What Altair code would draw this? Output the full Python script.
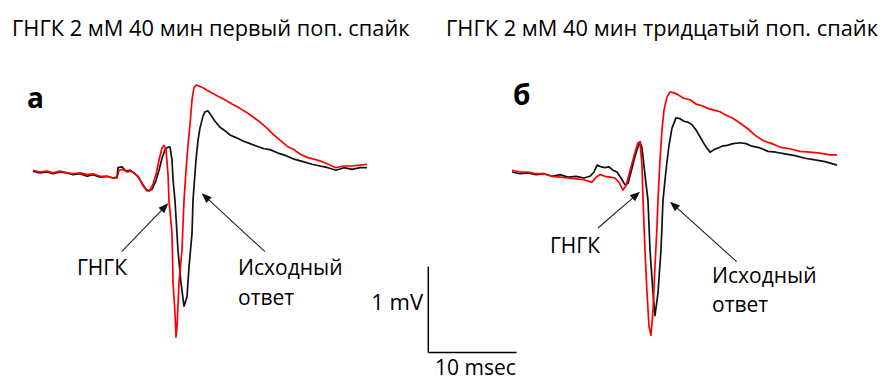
import math
import altair as alt
import pandas as pd

# ---------------- data (time in ms from sweep start, voltage in mV relative to baseline) ----------------
# Panel а — first population spike
A_BLACK_T = [0, 0.79, 1.59, 2.27, 3.06, 3.85, 4.53, 5.32, 6.12, 6.80, 7.59, 8.38, 9.06, 9.51, 9.63, 10.08,
             10.53, 10.99, 11.44, 11.89, 12.34, 12.80, 13.14, 13.48, 13.93, 14.27, 14.61, 14.95, 15.29, 15.52,
             15.74, 15.86, 16.08, 16.42, 16.76, 17.10, 17.44, 17.67, 18.01, 18.12, 18.46, 18.69, 18.91, 19.25,
             19.48, 19.82, 20.16, 20.61, 21.18, 21.74, 22.31, 22.99, 23.78, 24.58, 25.37, 26.16, 26.84, 27.75,
             28.65, 29.56, 30.58, 31.60, 32.50, 33.41, 34.31, 35.22, 36.13, 37.03, 37.83]
A_BLACK_V = [0.01, -0.01, 0, -0.02, 0, -0.01, -0.03, -0.02, -0.05, -0.03, -0.06, -0.05, -0.07, -0.06, 0.05, 0.06,
             0.01, 0.02, -0.01, -0.05, -0.13, -0.20, -0.22, -0.20, -0.10, 0.02, 0.16, 0.26, 0.29, 0.29,
             0.14, -0.09, -0.33, -0.91, -1.29, -1.56, -1.45, -1.10, -0.71, -0.33, 0.14, 0.37, 0.51, 0.65,
             0.70, 0.71, 0.66, 0.59, 0.52, 0.48, 0.43, 0.40, 0.36, 0.33, 0.30, 0.27, 0.26, 0.22,
             0.19, 0.15, 0.12, 0.09, 0.07, 0.05, 0.02, 0.05, 0.03, 0.05, 0.05]
A_RED_T = [0, 0.79, 1.59, 2.27, 3.06, 3.85, 4.53, 5.32, 6.12, 6.80, 7.59, 8.38, 9.06, 9.51, 9.74, 10.19,
           10.65, 11.10, 11.55, 12.00, 12.46, 12.91, 13.25, 13.59, 13.93, 14.27, 14.61, 14.84, 15.06, 15.29,
           15.40, 15.74, 15.86, 16.08, 16.19, 16.31, 16.53, 16.87, 17.10, 17.33, 17.55, 17.78, 18.01, 18.23,
           18.46, 18.80, 19.25, 19.71, 20.27, 20.95, 21.74, 22.54, 23.44, 24.24, 24.92, 25.71, 26.50, 27.18,
           27.97, 28.77, 29.56, 30.24, 31.03, 31.82, 32.50, 33.41, 34.31, 35.22, 36.13, 37.03, 37.83]
A_RED_V = [0.02, 0, 0.01, -0.01, 0.01, -0.01, -0.02, -0.01, -0.03, -0.02, -0.05, -0.05, -0.07, -0.07, 0.02, 0.03,
           0, 0.01, -0.02, -0.07, -0.16, -0.22, -0.21, -0.14, -0.03, 0.14, 0.28, 0.31, 0.26, -0.03,
           -0.33, -0.71, -1.29, -1.64, -1.92, -1.80, -1.29, -0.91, -0.33, 0.02, 0.31, 0.55, 0.84, 0.98,
           1.01, 1.00, 0.98, 0.95, 0.92, 0.88, 0.84, 0.79, 0.74, 0.69, 0.64, 0.58, 0.51, 0.44,
           0.37, 0.30, 0.26, 0.21, 0.17, 0.15, 0.13, 0.09, 0.05, 0.07, 0.07, 0.08, 0.09]

# Panel б — thirtieth population spike
B_BLACK_T = [0, 0.91, 1.81, 2.72, 3.62, 4.53, 5.44, 6.34, 7.25, 8.15, 8.83, 9.29, 9.63, 10.08, 10.53, 10.99,
             11.44, 11.89, 12.34, 12.80, 13.14, 13.48, 13.82, 14.16, 14.50, 14.72, 15.06, 15.40, 15.63, 15.97,
             16.19, 16.53, 16.87, 17.10, 17.44, 17.78, 18.12, 18.57, 19.03, 19.48, 19.93, 20.39, 20.84, 21.29,
             21.86, 22.42, 22.88, 23.33, 23.78, 24.35, 25.03, 25.82, 26.50, 27.18, 28.09, 28.99, 29.90, 30.92,
             32.05, 33.18, 34.31, 35.45, 36.81]
B_BLACK_V = [0, -0.02, -0.01, -0.03, -0.02, -0.05, -0.03, -0.06, -0.05, -0.07, -0.05, 0, 0.08, 0.06, 0.05, 0.06,
             0.02, 0, -0.07, -0.15, -0.13, 0, 0.14, 0.26, 0.35, 0.28, -0.03, -0.33, -0.91, -1.41,
             -1.67, -1.41, -0.91, -0.33, 0.02, 0.31, 0.51, 0.63, 0.62, 0.59, 0.58, 0.55, 0.49, 0.41,
             0.31, 0.23, 0.26, 0.28, 0.30, 0.31, 0.33, 0.34, 0.33, 0.30, 0.28, 0.24, 0.23, 0.21,
             0.19, 0.16, 0.14, 0.12, 0.08]
B_RED_T = [0, 0.91, 1.81, 2.72, 3.62, 4.53, 5.44, 6.34, 7.25, 8.15, 9.06, 9.51, 9.97, 10.53, 11.10, 11.66,
           12.12, 12.57, 12.91, 13.25, 13.59, 13.93, 14.27, 14.50, 14.72, 14.84, 15.06, 15.29, 15.52, 15.74,
           15.97, 16.19, 16.42, 16.53, 16.76, 16.99, 17.21, 17.55, 17.89, 18.35, 18.80, 19.37, 20.16, 20.84,
           21.52, 22.20, 22.88, 23.56, 24.24, 24.92, 25.82, 26.73, 27.63, 28.54, 29.45, 30.35, 31.48, 32.62,
           33.75, 34.88, 36.01, 36.81]
B_RED_V = [0.02, 0, 0, -0.02, -0.02, -0.05, -0.06, -0.07, -0.08, -0.09, -0.12, -0.06, -0.03, -0.05, -0.06, -0.07,
           -0.12, -0.21, -0.16, -0.03, 0.10, 0.23, 0.34, 0.35, 0.08, -0.33, -0.91, -1.41, -1.80, -1.90,
           -1.60, -1.10, -0.64, -0.33, 0.14, 0.49, 0.72, 0.87, 0.93, 0.92, 0.90, 0.86, 0.84, 0.79,
           0.77, 0.74, 0.72, 0.70, 0.66, 0.63, 0.57, 0.50, 0.42, 0.36, 0.33, 0.29, 0.27, 0.24,
           0.23, 0.22, 0.20, 0.20]

TITLES = ["ГНГК 2 мМ 40 мин первый поп. спайк", "ГНГК 2 мМ 40 мин тридцатый поп. спайк"]
PANEL_LABELS = ["а", "б"]
DRUG_LABEL = "ГНГК"
CONTROL_LABEL = ["Исходный", "ответ"]
SCALE_MV = 1
SCALE_MS = 10
SCALE_LABELS = ["1 mV", "10 msec"]

# ---------------- layout ----------------
W, H = 871, 375
PX_PER_MS = 8.83
PX_PER_MV = 86.0
X_MAX = W / PX_PER_MS
Y_MAX = 164 / PX_PER_MV
Y_MIN = Y_MAX - H / PX_PER_MV
PANEL_OFFSET = {"a": 25 / PX_PER_MS, "b": 504 / PX_PER_MS}
BAR_T0 = 47.6
BAR_V0 = -2.10

FONT = "Open Sans"
RED = "#ff0000"
BLACK = "#111111"

XS = alt.Scale(domain=[0, X_MAX], nice=False, zero=False)
YS = alt.Scale(domain=[Y_MIN, Y_MAX], nice=False, zero=False)


def trace_df(panel, t, v):
    return pd.DataFrame({"t": [x + PANEL_OFFSET[panel] for x in t], "v": v, "i": range(len(t))})


def trace_layer(panel, t, v, color):
    return alt.Chart(trace_df(panel, t, v)).mark_line(
        color=color, strokeWidth=1.7, strokeJoin="round"
    ).encode(
        x=alt.X("t:Q", scale=XS, axis=None),
        y=alt.Y("v:Q", scale=YS, axis=None),
        order="i:Q",
    )


layers = [
    trace_layer("a", A_BLACK_T, A_BLACK_V, BLACK),
    trace_layer("a", A_RED_T, A_RED_V, RED),
    trace_layer("b", B_BLACK_T, B_BLACK_V, BLACK),
    trace_layer("b", B_RED_T, B_RED_V, RED),
]

# scale bar (1 mV vertical, 10 ms horizontal)
bar = pd.DataFrame({
    "t": [BAR_T0, BAR_T0],
    "t2": [BAR_T0, BAR_T0 + SCALE_MS],
    "v": [BAR_V0 + SCALE_MV, BAR_V0],
    "v2": [BAR_V0, BAR_V0],
})
layers.append(alt.Chart(bar).mark_rule(color="#000", strokeWidth=1.5).encode(
    x=alt.X("t:Q", scale=XS, axis=None), x2="t2:Q",
    y=alt.Y("v:Q", scale=YS, axis=None), y2="v2:Q"))


def text(label, px, py, align="left", size=21, weight="normal"):
    return alt.Chart(pd.DataFrame({"label": [label]})).mark_text(
        align=align, baseline="alphabetic", font=FONT, fontSize=size,
        fontWeight=weight, color="#000"
    ).encode(x=alt.value(px), y=alt.value(py), text="label:N")


def arrow(x1, y1, x2, y2):
    ang = math.degrees(math.atan2(x2 - x1, -(y2 - y1))) % 360
    L = math.hypot(x2 - x1, y2 - y1)
    ux, uy = (x2 - x1) / L, (y2 - y1) / L
    cx, cy = x2 - ux * 5, y2 - uy * 5
    one = pd.DataFrame({"k": [0]})
    line = alt.Chart(one).mark_rule(color="#222", strokeWidth=1.1).encode(
        x=alt.value(x1), y=alt.value(y1), x2=alt.value(x2 - ux * 6), y2=alt.value(y2 - uy * 6))
    head = alt.Chart(one).mark_point(
        shape="M0,-1L0.8,1L-0.8,1Z", size=100, filled=True, opacity=1, color="#111", angle=ang
    ).encode(x=alt.value(cx), y=alt.value(cy))
    return [line, head]


layers += [
    text(TITLES[0], 4, 28, size=21.8),
    text(TITLES[1], 438, 28, size=21.8),
    text(PANEL_LABELS[0], 19, 100, size=28, weight="bold"),
    text(PANEL_LABELS[1], 505, 97, size=28, weight="bold"),
    text(DRUG_LABEL, 94, 267, align="center"),
    text(CONTROL_LABEL[0], 230, 267),
    text(CONTROL_LABEL[1], 230, 297),
    text(DRUG_LABEL, 567, 245, align="center"),
    text(CONTROL_LABEL[0], 704, 275),
    text(CONTROL_LABEL[1], 704, 304),
    text(SCALE_LABELS[0], 415, 302, align="right", size=22),
    text(SCALE_LABELS[1], 427, 367, size=21),
]
layers += arrow(113.7, 243.7, 160.3, 195.3)
layers += arrow(257, 243.7, 193.7, 185.3)
layers += arrow(590, 220, 632, 183.7)
layers += arrow(728.7, 253.7, 662, 193.7)

chart = alt.layer(*layers).properties(
    width=W, height=H, padding=0, autosize=alt.AutoSizeParams(type="none")
).configure_view(stroke=None)

chart.save("out.html", embed_options={"renderer": "svg", "actions": False})
